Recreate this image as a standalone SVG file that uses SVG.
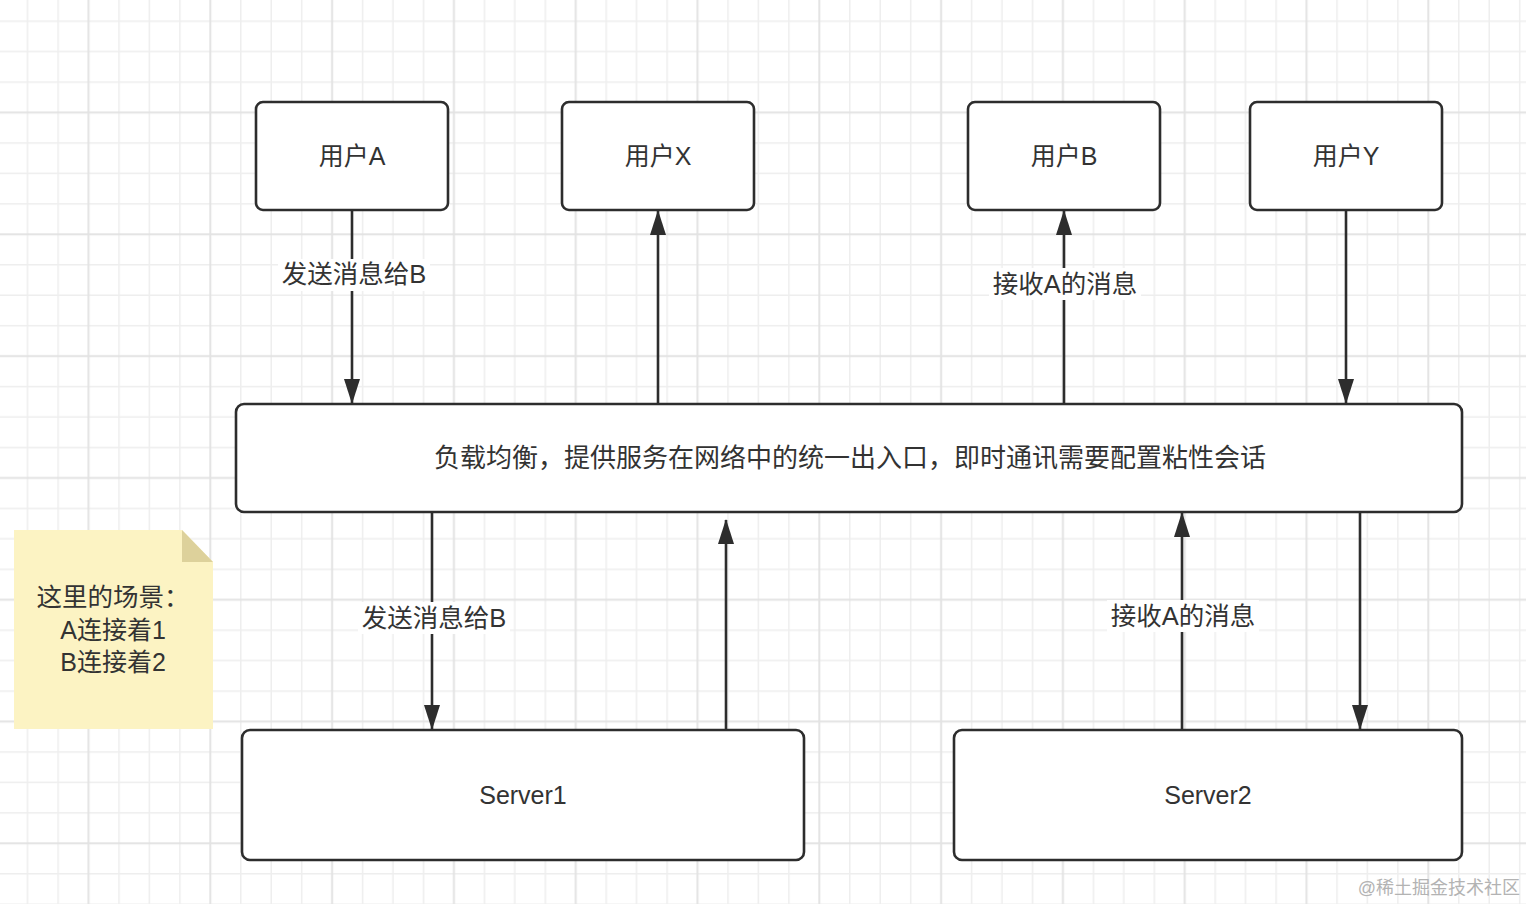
<svg xmlns="http://www.w3.org/2000/svg" width="1526" height="904" viewBox="0 0 1526 904">
<defs>
<pattern id="grid" patternUnits="userSpaceOnUse" x="73.3" y="97.3" width="121.8" height="121.8">
<g stroke="#eeeeee" stroke-width="1.6">
<line x1="45.675" y1="0" x2="45.675" y2="121.8"/>
<line x1="76.125" y1="0" x2="76.125" y2="121.8"/>
<line x1="106.575" y1="0" x2="106.575" y2="121.8"/>
<line x1="0" y1="45.675" x2="121.8" y2="45.675"/>
<line x1="0" y1="76.125" x2="121.8" y2="76.125"/>
<line x1="0" y1="106.575" x2="121.8" y2="106.575"/>
</g>
<g stroke="#e3e3e3" stroke-width="2">
<line x1="15.225" y1="0" x2="15.225" y2="121.8"/>
<line x1="0" y1="15.225" x2="121.8" y2="15.225"/>
</g>
</pattern>
<marker id="arr" viewBox="0 0 25 16" refX="24" refY="8" markerWidth="25" markerHeight="16" markerUnits="userSpaceOnUse" orient="auto">
<path d="M0,0 L25,8 L0,16 z" fill="#2d2d2d"/>
</marker>
<style>
.box{fill:#ffffff;stroke:#2d2d2d;stroke-width:2.6}
.t{font-family:"Liberation Sans","Noto Sans CJK SC",sans-serif;font-size:25px;fill:#333333;text-anchor:middle;dominant-baseline:central}
.edge{stroke:#2d2d2d;stroke-width:2.6;fill:none;marker-end:url(#arr)}
.lbl{fill:#ffffff}
</style>
</defs>
<rect width="1526" height="904" fill="#ffffff"/>
<rect width="1526" height="904" fill="url(#grid)"/>

<g id="connectors">
<line class="edge" x1="352" y1="211" x2="352" y2="403"/>
<line class="edge" x1="658" y1="404" x2="658" y2="211"/>
<line class="edge" x1="1064" y1="404" x2="1064" y2="211"/>
<line class="edge" x1="1346" y1="211" x2="1346" y2="403"/>
<line class="edge" x1="432" y1="513" x2="432" y2="729"/>
<line class="edge" x1="726" y1="730" x2="726" y2="520"/>
<line class="edge" x1="1182" y1="730" x2="1182" y2="513"/>
<line class="edge" x1="1360" y1="513" x2="1360" y2="729"/>
<g id="labels">
<rect class="lbl" x="278" y="259" width="152" height="32"/>
<text class="t" x="354" y="274" style="font-size:25.5px">发送消息给B</text>
<rect class="lbl" x="989" y="268" width="152" height="32"/>
<text class="t" x="1065" y="284" style="font-size:25.5px">接收A的消息</text>
<rect class="lbl" x="358" y="602" width="152" height="32"/>
<text class="t" x="434" y="618" style="font-size:25.5px">发送消息给B</text>
<rect class="lbl" x="1107" y="600" width="152" height="32"/>
<text class="t" x="1183" y="616" style="font-size:25.5px">接收A的消息</text>
</g>
</g>

<g id="userA"><rect class="box" x="256" y="102" width="192" height="108" rx="7"/><text class="t" x="352" y="156">用户A</text></g>
<g id="userX"><rect class="box" x="562" y="102" width="192" height="108" rx="7"/><text class="t" x="658" y="156">用户X</text></g>
<g id="userB"><rect class="box" x="968" y="102" width="192" height="108" rx="7"/><text class="t" x="1064" y="156">用户B</text></g>
<g id="userY"><rect class="box" x="1250" y="102" width="192" height="108" rx="7"/><text class="t" x="1346" y="156">用户Y</text></g>
<g id="lb"><rect class="box" x="236" y="404" width="1226" height="108" rx="8"/><text class="t" x="850" y="458" style="font-size:26px">负载均衡，提供服务在网络中的统一出入口，即时通讯需要配置粘性会话</text></g>
<g id="server1"><rect class="box" x="242" y="730" width="562" height="130" rx="8"/><text class="t" x="523" y="795">Server1</text></g>
<g id="server2"><rect class="box" x="954" y="730" width="508" height="130" rx="8"/><text class="t" x="1208" y="795">Server2</text></g>

<g id="note">
<path d="M14,530 L182,530 L213,562 L213,729 L14,729 z" fill="#fcf3c3"/>
<path d="M182,530 L213,562 L182,562 z" fill="#ddd19b"/>
<text class="t" x="113" y="597" style="font-size:25.5px">这里的场景：</text>
<text class="t" x="113" y="630">A连接着1</text>
<text class="t" x="113" y="662">B连接着2</text>
</g>

<text x="1520" y="888" font-family="Liberation Sans,Noto Sans CJK SC,sans-serif" font-size="18" fill="#b3b3b3" text-anchor="end" dominant-baseline="central">@稀土掘金技术社区</text>
</svg>
